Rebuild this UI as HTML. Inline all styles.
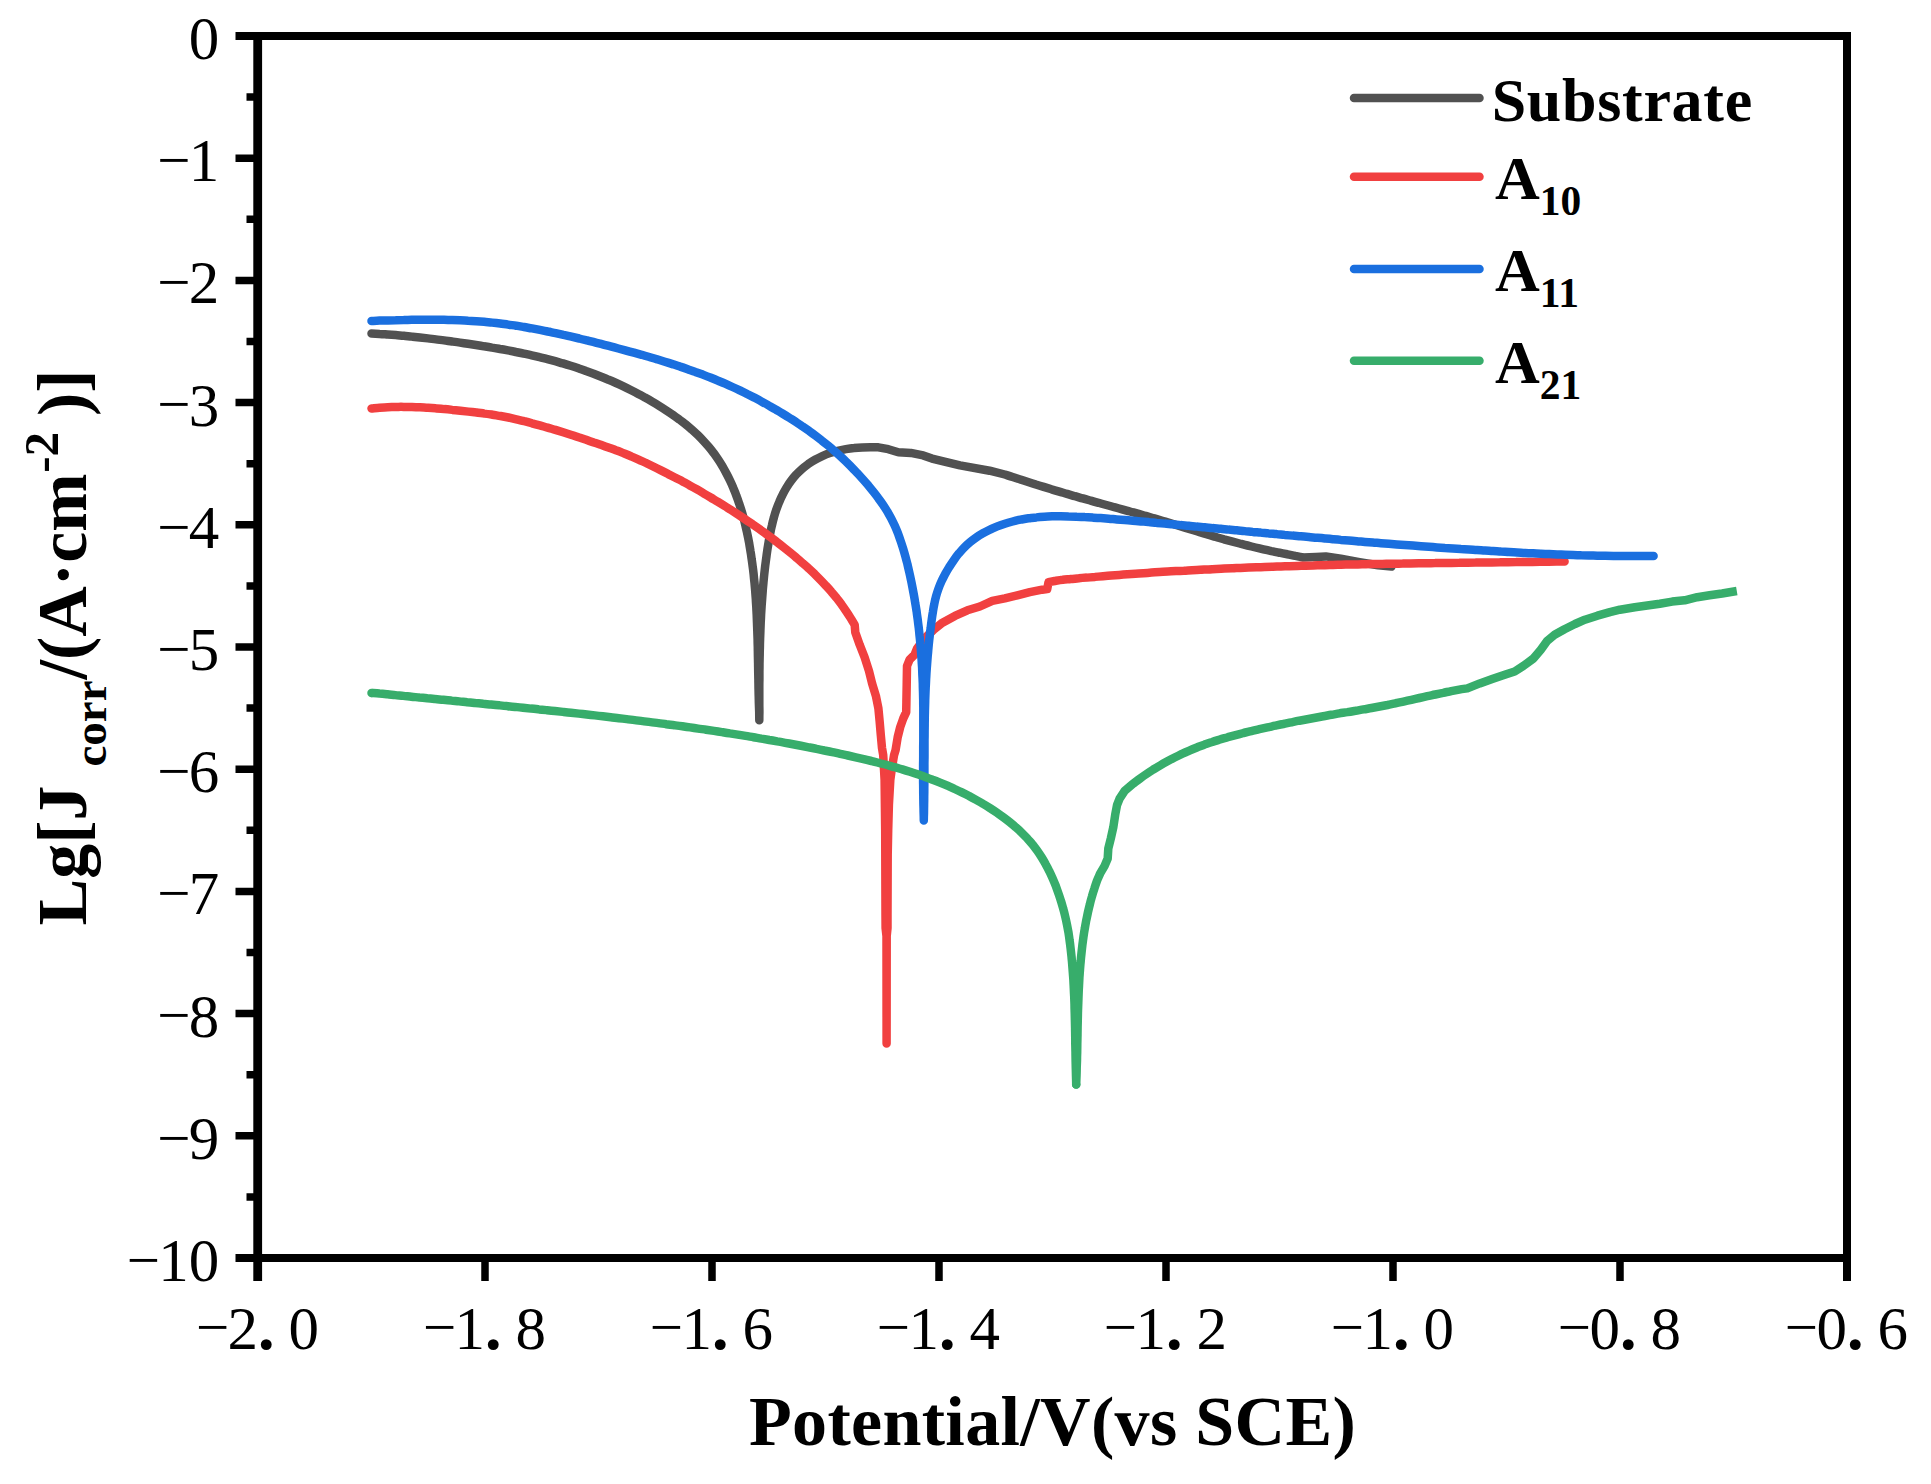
<!DOCTYPE html>
<html lang="en"><head><meta charset="utf-8"><title>Polarization curves</title>
<style>html,body{margin:0;padding:0;background:#fff;}svg{display:block;}text{font-family:"Liberation Serif",serif;fill:#000;}.t{font-size:61px;}.b{font-weight:bold;}</style></head><body>
<svg width="1931" height="1484" viewBox="0 0 1931 1484">
<rect width="1931" height="1484" fill="#fff"/>
<path d="M371.5,333.6C372.8,333.6 376.9,333.7 379.6,333.9C382.3,334.0 385.0,334.3 387.6,334.5C390.3,334.7 393.0,334.9 395.7,335.1C398.4,335.3 401.1,335.6 403.8,335.8C406.4,336.1 409.1,336.3 411.8,336.6C414.5,336.9 417.2,337.2 419.9,337.5C422.5,337.8 425.2,338.1 427.9,338.4C430.6,338.7 433.2,339.1 435.9,339.4C438.6,339.7 441.3,340.1 444.0,340.4C446.6,340.8 449.3,341.1 452.0,341.5C454.7,341.9 457.3,342.3 460.0,342.6C462.7,343.0 465.3,343.4 468.0,343.8C470.7,344.2 473.4,344.6 476.0,345.0C478.7,345.4 481.4,345.8 484.0,346.3C486.7,346.7 489.4,347.1 492.0,347.6C494.7,348.0 497.3,348.5 500.0,349.0C502.6,349.4 505.3,349.9 507.9,350.4C510.6,350.9 513.2,351.4 515.9,352.0C518.5,352.5 521.2,353.0 523.8,353.6C526.4,354.2 529.1,354.7 531.7,355.3C534.3,355.9 536.9,356.5 539.6,357.2C542.2,357.8 544.8,358.5 547.4,359.1C550.0,359.8 552.6,360.5 555.2,361.2C557.8,361.9 560.4,362.7 563.0,363.4C565.6,364.2 568.1,365.0 570.7,365.8C573.3,366.6 575.8,367.4 578.4,368.3C580.9,369.2 583.5,370.0 586.0,371.0C588.6,371.9 591.1,372.8 593.6,373.7C596.1,374.7 598.7,375.7 601.2,376.7C603.7,377.7 606.2,378.7 608.6,379.8C611.1,380.8 613.6,381.9 616.1,383.0C618.5,384.1 621.0,385.3 623.4,386.4C625.9,387.6 628.3,388.8 630.7,390.0C633.1,391.2 635.5,392.4 637.9,393.7C640.3,395.0 642.7,396.2 645.0,397.6C647.4,398.9 649.8,400.2 652.1,401.6C654.4,403.0 656.8,404.4 659.1,405.8C661.4,407.2 663.7,408.7 665.9,410.2C668.2,411.7 670.5,413.2 672.7,414.7C674.9,416.3 677.1,417.9 679.3,419.5C681.4,421.1 683.6,422.8 685.7,424.4C687.8,426.1 689.9,427.9 691.9,429.6C693.9,431.4 695.9,433.2 697.8,435.1C699.7,437.0 701.6,438.9 703.4,440.8C705.3,442.8 707.0,444.8 708.7,446.8C710.5,448.9 712.1,451.0 713.7,453.1C715.3,455.3 716.8,457.5 718.3,459.7C719.8,461.9 721.2,464.2 722.6,466.5C723.9,468.9 725.2,471.2 726.5,473.6C727.8,476.0 729.0,478.4 730.1,480.8C731.3,483.3 732.4,485.7 733.4,488.2C734.5,490.7 735.5,493.2 736.4,495.8C737.4,498.3 738.3,500.8 739.1,503.4C740.0,506.0 740.8,508.5 741.6,511.1C742.4,513.7 743.1,516.3 743.8,518.9C744.5,521.5 745.1,524.2 745.7,526.8C746.4,529.4 746.9,532.1 747.5,534.7C748.1,537.4 748.6,540.0 749.1,542.7C749.5,545.4 750.0,548.0 750.4,550.7C750.9,553.4 751.3,556.0 751.6,558.7C752.0,561.4 752.4,564.1 752.7,566.7C753.1,569.4 753.4,572.1 753.7,574.8C753.9,577.4 754.2,580.1 754.5,582.8C754.7,585.5 755.0,588.2 755.2,590.9C755.4,593.5 755.6,596.2 755.8,598.9C755.9,601.6 756.1,604.3 756.3,607.0C756.4,609.7 756.6,612.4 756.7,615.0C756.8,617.7 756.9,620.4 757.0,623.1C757.1,625.8 757.2,628.5 757.3,631.2C757.4,633.9 757.5,636.6 757.6,639.3C757.6,642.0 757.7,644.7 757.8,647.4C757.8,650.1 757.9,652.8 757.9,655.5C758.0,658.2 758.0,660.9 758.1,663.6C758.1,666.3 758.2,668.9 758.2,671.6C758.3,674.3 758.3,677.0 758.4,679.7C758.4,682.4 758.5,685.1 758.5,687.8C758.6,690.5 758.6,693.2 758.7,695.9C758.8,698.6 758.8,701.3 758.9,704.0C759.0,706.7 759.1,709.4 759.2,712.1C759.2,714.8 759.3,718.9 759.3,720.2C759.3,718.8 759.3,714.8 759.4,712.1C759.4,709.4 759.3,706.6 759.3,703.9C759.3,701.2 759.3,698.5 759.3,695.8C759.3,693.1 759.3,690.4 759.3,687.6C759.3,684.9 759.3,682.2 759.4,679.5C759.4,676.8 759.4,674.1 759.4,671.3C759.5,668.6 759.5,665.9 759.5,663.2C759.6,660.5 759.6,657.8 759.7,655.0C759.7,652.3 759.8,649.6 759.9,646.9C759.9,644.2 760.0,641.5 760.1,638.8C760.2,636.0 760.3,633.3 760.4,630.6C760.5,627.9 760.6,625.2 760.7,622.5C760.9,619.8 761.0,617.1 761.1,614.4C761.3,611.7 761.4,609.0 761.6,606.2C761.8,603.5 762.0,600.8 762.2,598.1C762.4,595.4 762.6,592.7 762.8,590.0C763.0,587.3 763.3,584.6 763.5,581.9C763.8,579.2 764.0,576.6 764.3,573.9C764.6,571.2 764.9,568.5 765.2,565.8C765.6,563.1 765.9,560.4 766.3,557.7C766.6,555.0 767.0,552.3 767.4,549.6C767.8,547.0 768.3,544.3 768.7,541.6C769.2,538.9 769.6,536.2 770.2,533.5C770.7,530.8 771.2,528.2 771.9,525.5C772.5,522.8 773.1,520.2 773.9,517.5C774.6,514.9 775.4,512.3 776.3,509.7C777.2,507.1 778.1,504.6 779.2,502.1C780.2,499.6 781.3,497.1 782.6,494.7C783.8,492.2 785.1,489.9 786.5,487.6C787.9,485.3 789.4,483.0 791.0,480.9C792.6,478.8 794.3,476.7 796.1,474.7C797.9,472.8 799.9,470.9 801.9,469.1C803.9,467.3 806.0,465.7 808.2,464.1C810.4,462.6 812.7,461.1 815.0,459.8C817.4,458.4 819.8,457.2 822.3,456.1C824.8,455.0 827.3,454.0 829.9,453.1C832.5,452.2 835.2,451.5 837.8,450.8C840.5,450.1 843.2,449.6 845.9,449.1C848.6,448.6 851.4,448.2 854.1,448.0C856.8,447.7 859.6,447.5 862.3,447.4C865.0,447.3 867.7,447.3 870.4,447.3C873.1,447.3 877.1,447.3 878.4,447.3L888.3,449.2L898.3,452.3L910.8,452.9L923.2,455.4L932.0,458.6L944.4,461.7L960.0,465.4L989.6,470.7L1004.8,474.5C1006.1,474.9 1010.0,476.2 1012.6,477.0C1015.2,477.8 1017.7,478.7 1020.3,479.5C1022.9,480.4 1025.5,481.2 1028.1,482.0C1030.7,482.8 1033.3,483.6 1035.9,484.5C1038.5,485.3 1041.1,486.1 1043.7,486.9C1046.3,487.7 1048.9,488.5 1051.5,489.3C1054.1,490.0 1056.7,490.8 1059.3,491.6C1061.9,492.4 1064.5,493.1 1067.1,493.9C1069.7,494.7 1072.4,495.4 1075.0,496.2C1077.6,496.9 1080.2,497.7 1082.8,498.4C1085.4,499.2 1088.1,499.9 1090.7,500.6C1093.3,501.4 1095.9,502.1 1098.5,502.8C1101.2,503.6 1103.8,504.3 1106.4,505.0C1109.0,505.7 1111.6,506.4 1114.3,507.2C1116.9,507.9 1119.5,508.6 1122.1,509.3C1124.8,510.0 1127.4,510.8 1130.0,511.5C1132.6,512.2 1135.2,513.0 1137.9,513.7C1140.5,514.4 1143.1,515.2 1145.7,515.9C1148.3,516.7 1150.9,517.4 1153.5,518.2C1156.2,518.9 1158.8,519.7 1161.4,520.5C1164.0,521.3 1166.6,522.0 1169.2,522.8C1171.8,523.6 1174.4,524.4 1177.0,525.2C1179.6,526.0 1182.2,526.8 1184.8,527.6C1187.4,528.4 1190.0,529.2 1192.6,530.0C1195.2,530.8 1197.8,531.6 1200.4,532.4C1203.0,533.1 1205.6,533.9 1208.2,534.7C1210.8,535.5 1213.4,536.2 1216.0,537.0C1218.7,537.8 1221.3,538.5 1223.9,539.3C1226.5,540.0 1229.1,540.7 1231.7,541.4C1234.4,542.1 1237.0,542.8 1239.6,543.5C1242.3,544.2 1244.9,544.9 1247.5,545.5C1250.2,546.2 1252.8,546.8 1255.5,547.5C1258.1,548.1 1260.8,548.7 1263.4,549.3C1266.1,549.9 1268.7,550.5 1271.4,551.1C1274.0,551.6 1276.7,552.2 1279.4,552.7C1282.0,553.3 1284.7,553.8 1287.4,554.3C1290.1,554.9 1292.7,555.3 1295.4,555.9C1298.1,556.4 1302.1,557.2 1303.4,557.5L1315.9,557.0L1325.8,556.4L1340.8,558.7L1359.5,562.2L1378.2,565.3L1391.5,566.6" fill="none" stroke="#515151" stroke-width="8.5" stroke-linecap="round" stroke-linejoin="round"/>
<path d="M371.5,408.5C372.8,408.4 376.9,407.9 379.6,407.7C382.3,407.5 385.0,407.3 387.7,407.2C390.4,407.1 393.0,407.0 395.7,406.9C398.4,406.9 401.1,406.8 403.8,406.9C406.5,406.9 409.2,406.9 411.9,407.0C414.6,407.1 417.3,407.2 420.0,407.3C422.7,407.5 425.4,407.6 428.1,407.8C430.8,408.0 433.5,408.2 436.2,408.4C438.8,408.6 441.5,408.8 444.2,409.1C446.9,409.3 449.6,409.6 452.3,409.9C455.0,410.1 457.7,410.4 460.4,410.7C463.0,411.0 465.7,411.3 468.4,411.6C471.1,411.9 473.8,412.2 476.5,412.5C479.1,412.9 481.8,413.2 484.5,413.6C487.2,413.9 489.8,414.3 492.5,414.7C495.2,415.1 497.8,415.6 500.5,416.0C503.1,416.5 505.8,417.0 508.4,417.5C511.1,418.1 513.7,418.7 516.3,419.3C518.9,419.9 521.6,420.5 524.2,421.2C526.8,421.8 529.4,422.5 532.0,423.3C534.6,424.0 537.2,424.7 539.8,425.4C542.4,426.1 545.0,426.9 547.6,427.6C550.2,428.4 552.8,429.1 555.4,429.9C557.9,430.7 560.5,431.5 563.1,432.3C565.7,433.1 568.2,433.9 570.8,434.7C573.4,435.5 575.9,436.4 578.5,437.3C581.1,438.1 583.6,439.0 586.2,439.8C588.7,440.7 591.3,441.6 593.8,442.5C596.4,443.3 598.9,444.2 601.5,445.1C604.0,446.0 606.6,446.9 609.1,447.8C611.6,448.7 614.2,449.6 616.7,450.6C619.2,451.5 621.7,452.5 624.3,453.5C626.8,454.5 629.3,455.5 631.7,456.6C634.2,457.6 636.7,458.7 639.1,459.8C641.6,460.9 644.0,462.1 646.5,463.2C648.9,464.4 651.3,465.6 653.7,466.8C656.2,468.0 658.6,469.2 661.0,470.4C663.4,471.6 665.8,472.8 668.2,474.1C670.6,475.3 673.0,476.5 675.4,477.7C677.8,479.0 680.2,480.2 682.6,481.5C685.0,482.8 687.4,484.0 689.7,485.4C692.1,486.7 694.4,488.0 696.8,489.3C699.1,490.6 701.4,492.0 703.7,493.4C706.1,494.7 708.4,496.1 710.7,497.5C713.0,498.9 715.3,500.2 717.6,501.6C719.9,503.1 722.2,504.5 724.5,505.9C726.8,507.3 729.1,508.8 731.4,510.2C733.7,511.7 735.9,513.1 738.2,514.6C740.4,516.1 742.7,517.6 744.9,519.1C747.2,520.6 749.4,522.1 751.6,523.6C753.9,525.2 756.1,526.7 758.3,528.3C760.5,529.8 762.7,531.4 764.9,533.0C767.0,534.6 769.2,536.2 771.4,537.8C773.5,539.4 775.7,541.0 777.8,542.7C780.0,544.3 782.1,546.0 784.2,547.7C786.3,549.4 788.4,551.1 790.5,552.8C792.6,554.5 794.7,556.2 796.7,558.0C798.8,559.7 800.8,561.5 802.8,563.3C804.9,565.0 806.9,566.8 808.9,568.7C810.9,570.5 812.8,572.3 814.8,574.2C816.7,576.1 818.6,578.0 820.5,579.9C822.4,581.8 824.2,583.8 826.0,585.8C827.9,587.8 829.7,589.8 831.4,591.8C833.2,593.8 834.9,595.9 836.6,598.0C838.2,600.1 839.9,602.3 841.5,604.4C843.1,606.6 844.6,608.8 846.1,611.1C847.6,613.3 849.1,615.6 850.5,617.9C851.9,620.2 854.0,623.7 854.7,624.9L855.3,632.3L859.7,644.8L864.6,657.3L869.0,671.0L872.1,683.5L875.9,695.9L878.4,708.4L879.6,720.9L880.8,735.0L882.0,748.0L883.2,754.9L884.6,779.9L885.2,829.8L885.5,915.0L885.6,928.0L886.5,936.0L886.6,1043.5L886.7,936.0L887.5,928.0L887.5,915.0L887.7,854.7L888.2,829.8L888.9,804.8L890.3,779.9L892.0,767.4L894.1,754.9L895.6,750.0L897.7,737.1L900.2,727.1L903.3,718.4L906.2,712.1L906.4,702.2L906.7,684.7L907.0,666.0L909.5,659.8L914.5,654.8L917.0,648.5L924.5,638.6L933.7,629.6L942.5,622.7L954.9,615.9L967.4,610.3L979.9,606.5L992.3,600.9L1004.8,598.4L1017.3,595.3L1029.8,592.2L1042.2,589.7L1047.2,589.1L1048.5,582.2L1054.7,581.0C1056.0,580.8 1060.0,580.1 1062.7,579.8C1065.4,579.4 1068.1,579.3 1070.8,579.0C1073.5,578.8 1076.2,578.5 1078.9,578.3C1081.5,578.0 1084.2,577.8 1086.9,577.6C1089.6,577.3 1092.3,577.1 1095.0,576.9C1097.7,576.6 1100.4,576.4 1103.1,576.2C1105.8,576.0 1108.5,575.8 1111.2,575.5C1113.8,575.3 1116.5,575.1 1119.2,574.9C1121.9,574.7 1124.6,574.5 1127.3,574.3C1130.0,574.1 1132.7,573.9 1135.4,573.7C1138.1,573.6 1140.8,573.4 1143.5,573.2C1146.2,573.0 1148.9,572.8 1151.6,572.6C1154.2,572.5 1156.9,572.3 1159.6,572.1C1162.3,572.0 1165.0,571.8 1167.7,571.6C1170.4,571.5 1173.1,571.3 1175.8,571.1C1178.5,571.0 1181.2,570.8 1183.9,570.7C1186.6,570.5 1189.3,570.4 1192.0,570.2C1194.7,570.1 1197.4,570.0 1200.1,569.8C1202.8,569.7 1205.5,569.5 1208.2,569.4C1210.9,569.3 1213.6,569.1 1216.3,569.0C1219.0,568.9 1221.7,568.8 1224.4,568.6C1227.1,568.5 1229.8,568.4 1232.4,568.3C1235.1,568.2 1237.8,568.0 1240.5,567.9C1243.2,567.8 1245.9,567.7 1248.6,567.6C1251.3,567.5 1254.0,567.4 1256.7,567.3C1259.4,567.2 1262.1,567.1 1264.8,567.0C1267.5,566.9 1270.2,566.8 1272.9,566.7C1275.6,566.6 1278.3,566.5 1281.0,566.4C1283.7,566.3 1286.4,566.3 1289.1,566.2C1291.8,566.1 1294.5,566.0 1297.2,565.9C1299.9,565.8 1302.6,565.8 1305.3,565.7C1308.0,565.6 1310.7,565.5 1313.4,565.5C1316.1,565.4 1318.8,565.3 1321.5,565.2C1324.2,565.2 1326.9,565.1 1329.6,565.0C1332.3,565.0 1335.0,564.9 1337.7,564.8C1340.4,564.8 1343.1,564.7 1345.8,564.6C1348.5,564.6 1351.2,564.5 1353.9,564.5C1356.6,564.4 1359.3,564.4 1362.0,564.3C1364.7,564.2 1367.4,564.2 1370.1,564.1C1372.8,564.1 1375.5,564.0 1378.2,564.0C1380.9,563.9 1383.6,563.9 1386.4,563.8C1389.1,563.8 1391.8,563.7 1394.5,563.7C1397.2,563.7 1399.9,563.6 1402.6,563.6C1405.3,563.5 1408.0,563.5 1410.7,563.4C1413.4,563.4 1416.1,563.4 1418.8,563.3C1421.5,563.3 1424.2,563.2 1426.9,563.2C1429.6,563.2 1432.3,563.1 1435.0,563.1C1437.7,563.0 1440.4,563.0 1443.1,563.0C1445.8,562.9 1448.5,562.9 1451.2,562.9C1453.9,562.8 1456.6,562.8 1459.3,562.8C1462.0,562.7 1464.7,562.7 1467.4,562.7C1470.1,562.6 1472.8,562.6 1475.5,562.6C1478.2,562.5 1480.9,562.5 1483.6,562.5C1486.3,562.4 1489.0,562.4 1491.7,562.4C1494.4,562.3 1497.1,562.3 1499.8,562.3C1502.5,562.2 1505.2,562.2 1507.9,562.2C1510.6,562.1 1513.3,562.1 1516.0,562.1C1518.7,562.0 1521.4,562.0 1524.1,562.0C1526.8,561.9 1529.5,561.9 1532.2,561.9C1534.9,561.8 1537.6,561.8 1540.3,561.8C1543.0,561.7 1545.7,561.7 1548.4,561.7C1551.1,561.6 1553.8,561.6 1556.5,561.6C1559.2,561.6 1563.2,561.6 1564.6,561.6" fill="none" stroke="#F14040" stroke-width="8.5" stroke-linecap="round" stroke-linejoin="round"/>
<path d="M371.5,320.9C372.8,320.9 376.9,320.7 379.5,320.6C382.2,320.5 384.9,320.5 387.6,320.4C390.3,320.3 392.9,320.2 395.6,320.2C398.3,320.1 401.0,320.0 403.7,320.0C406.4,319.9 409.0,319.9 411.7,319.8C414.4,319.8 417.1,319.8 419.8,319.7C422.5,319.7 425.2,319.7 427.9,319.7C430.6,319.7 433.2,319.7 435.9,319.7C438.6,319.7 441.3,319.8 444.0,319.8C446.7,319.9 449.4,319.9 452.1,320.0C454.7,320.1 457.4,320.2 460.1,320.3C462.8,320.4 465.5,320.5 468.1,320.7C470.8,320.8 473.5,321.0 476.2,321.2C478.9,321.4 481.5,321.6 484.2,321.8C486.9,322.1 489.5,322.3 492.2,322.6C494.9,322.9 497.5,323.2 500.2,323.5C502.8,323.9 505.5,324.2 508.1,324.6C510.8,325.0 513.5,325.3 516.1,325.7C518.7,326.2 521.4,326.6 524.0,327.0C526.7,327.5 529.3,327.9 532.0,328.4C534.6,328.9 537.2,329.4 539.9,329.9C542.5,330.4 545.1,330.9 547.8,331.5C550.4,332.0 553.0,332.6 555.6,333.1C558.3,333.7 560.9,334.3 563.5,334.9C566.1,335.4 568.8,336.1 571.4,336.7C574.0,337.3 576.6,337.9 579.2,338.5C581.8,339.2 584.5,339.8 587.1,340.4C589.7,341.1 592.3,341.7 594.9,342.4C597.5,343.1 600.1,343.7 602.7,344.4C605.3,345.1 607.9,345.7 610.5,346.4C613.1,347.1 615.7,347.8 618.3,348.5C620.9,349.2 623.5,349.9 626.1,350.6C628.7,351.3 631.3,352.0 633.9,352.7C636.5,353.4 639.1,354.1 641.7,354.8C644.2,355.6 646.8,356.3 649.4,357.0C652.0,357.8 654.5,358.6 657.1,359.3C659.7,360.1 662.2,360.9 664.8,361.7C667.4,362.5 669.9,363.3 672.5,364.1C675.0,364.9 677.6,365.7 680.1,366.6C682.7,367.4 685.2,368.3 687.7,369.2C690.2,370.1 692.8,370.9 695.3,371.9C697.8,372.8 700.3,373.7 702.8,374.6C705.3,375.6 707.8,376.6 710.3,377.5C712.8,378.5 715.3,379.5 717.8,380.6C720.2,381.6 722.7,382.6 725.2,383.7C727.6,384.8 730.1,385.9 732.5,387.0C735.0,388.1 737.4,389.2 739.8,390.4C742.3,391.6 744.7,392.7 747.1,394.0C749.5,395.2 751.9,396.4 754.3,397.6C756.7,398.9 759.1,400.2 761.4,401.4C763.8,402.7 766.2,404.0 768.5,405.4C770.8,406.7 773.2,408.0 775.5,409.4C777.8,410.8 780.1,412.1 782.4,413.5C784.7,414.9 787.0,416.3 789.3,417.8C791.5,419.2 793.8,420.6 796.0,422.1C798.3,423.6 800.5,425.0 802.7,426.6C804.9,428.1 807.1,429.6 809.3,431.1C811.5,432.7 813.6,434.3 815.8,435.9C817.9,437.5 820.0,439.1 822.1,440.8C824.2,442.4 826.3,444.1 828.4,445.8C830.5,447.5 832.5,449.3 834.5,451.1C836.5,452.8 838.5,454.6 840.5,456.4C842.5,458.3 844.4,460.1 846.4,462.0C848.3,463.9 850.2,465.8 852.1,467.7C854.0,469.6 855.8,471.6 857.7,473.5C859.5,475.5 861.3,477.5 863.1,479.5C864.9,481.5 866.7,483.6 868.4,485.6C870.1,487.7 871.8,489.8 873.5,491.9C875.2,494.0 876.8,496.1 878.4,498.3C880.0,500.4 881.6,502.6 883.1,504.8C884.6,507.1 886.0,509.3 887.4,511.6C888.7,513.9 890.1,516.2 891.3,518.6C892.5,521.0 893.7,523.4 894.8,525.8C895.9,528.2 896.9,530.7 897.9,533.2C898.8,535.7 899.7,538.3 900.6,540.8C901.5,543.3 902.3,545.9 903.1,548.5C903.9,551.1 904.6,553.6 905.3,556.2C906.0,558.8 906.7,561.4 907.4,564.0C908.0,566.6 908.6,569.3 909.2,571.9C909.8,574.5 910.4,577.1 910.9,579.7C911.5,582.4 912.0,585.0 912.5,587.6C913.0,590.3 913.5,592.9 914.0,595.6C914.5,598.2 914.9,600.8 915.3,603.5C915.8,606.1 916.2,608.8 916.6,611.4C916.9,614.1 917.3,616.8 917.7,619.4C918.0,622.1 918.3,624.7 918.7,627.4C919.0,630.1 919.3,632.7 919.5,635.4C919.8,638.1 920.1,640.7 920.3,643.4C920.6,646.1 920.8,648.7 921.0,651.4C921.2,654.1 921.4,656.8 921.6,659.5C921.7,662.1 921.9,664.8 922.1,667.5C922.2,670.2 922.3,672.9 922.4,675.5C922.6,678.2 922.7,680.9 922.8,683.6C922.8,686.3 922.9,688.9 923.0,691.6C923.1,694.3 923.1,697.0 923.2,699.7C923.2,702.4 923.2,705.0 923.3,707.7C923.3,710.4 923.3,713.1 923.3,715.8C923.3,718.5 923.3,721.2 923.3,723.8C923.3,726.5 923.3,729.2 923.3,731.9C923.3,734.6 923.3,737.3 923.3,740.0C923.3,742.6 923.2,745.3 923.2,748.0C923.2,750.7 923.2,753.4 923.2,756.1C923.2,758.8 923.2,761.4 923.1,764.1C923.1,766.8 923.1,769.5 923.1,772.2C923.1,774.9 923.1,777.6 923.1,780.2C923.1,782.9 923.2,785.6 923.2,788.3C923.2,791.0 923.2,793.7 923.3,796.4C923.3,799.0 923.4,801.7 923.4,804.4C923.5,807.1 923.6,809.8 923.6,812.4C923.7,815.1 923.8,819.2 923.8,820.5C923.8,819.2 923.9,815.1 924.0,812.5C924.0,809.8 924.1,807.1 924.1,804.4C924.2,801.8 924.2,799.1 924.2,796.4C924.3,793.7 924.3,791.0 924.3,788.4C924.3,785.7 924.4,783.0 924.4,780.3C924.4,777.7 924.4,775.0 924.4,772.3C924.4,769.6 924.4,766.9 924.4,764.3C924.4,761.6 924.5,758.9 924.5,756.2C924.5,753.5 924.5,750.9 924.5,748.2C924.5,745.5 924.5,742.8 924.5,740.1C924.6,737.5 924.6,734.8 924.6,732.1C924.6,729.4 924.7,726.7 924.7,724.1C924.7,721.4 924.8,718.7 924.8,716.0C924.9,713.4 924.9,710.7 925.0,708.0C925.1,705.3 925.2,702.6 925.2,700.0C925.3,697.3 925.4,694.6 925.5,691.9C925.6,689.3 925.7,686.6 925.9,683.9C926.0,681.3 926.1,678.6 926.3,675.9C926.4,673.2 926.6,670.6 926.8,667.9C927.0,665.2 927.2,662.6 927.4,659.9C927.6,657.2 927.8,654.5 928.1,651.9C928.3,649.2 928.6,646.5 928.8,643.9C929.1,641.2 929.4,638.6 929.7,635.9C930.0,633.2 930.3,630.6 930.7,627.9C931.0,625.2 931.3,622.6 931.7,619.9C932.1,617.2 932.4,614.6 932.9,611.9C933.3,609.3 933.7,606.6 934.3,604.0C934.8,601.4 935.4,598.8 936.1,596.2C936.8,593.6 937.6,591.1 938.5,588.6C939.4,586.1 940.4,583.7 941.5,581.3C942.6,578.9 943.9,576.5 945.1,574.1C946.4,571.8 947.8,569.4 949.2,567.1C950.7,564.8 952.2,562.5 953.7,560.3C955.3,558.0 956.9,555.8 958.6,553.7C960.4,551.7 962.1,549.6 964.0,547.7C965.9,545.8 967.9,544.0 969.9,542.3C971.9,540.6 974.1,539.0 976.2,537.5C978.4,536.0 980.6,534.6 982.9,533.3C985.2,532.0 987.6,530.7 990.0,529.6C992.4,528.4 994.8,527.4 997.3,526.4C999.8,525.4 1002.3,524.5 1004.9,523.7C1007.4,522.9 1010.0,522.2 1012.6,521.5C1015.3,520.8 1017.9,520.2 1020.5,519.7C1023.2,519.2 1025.8,518.7 1028.5,518.3C1031.2,518.0 1033.8,517.6 1036.5,517.4C1039.2,517.1 1041.8,516.9 1044.5,516.7C1047.2,516.5 1049.9,516.4 1052.5,516.3C1055.2,516.3 1057.9,516.3 1060.6,516.3C1063.2,516.3 1065.9,516.3 1068.6,516.4C1071.3,516.4 1074.0,516.5 1076.6,516.7C1079.3,516.8 1082.0,516.9 1084.7,517.1C1087.3,517.2 1090.0,517.4 1092.7,517.6C1095.4,517.8 1098.0,518.0 1100.7,518.1C1103.4,518.3 1106.1,518.5 1108.7,518.7C1111.4,518.9 1114.1,519.2 1116.7,519.4C1119.4,519.6 1122.1,519.8 1124.8,520.0C1127.4,520.3 1130.1,520.5 1132.8,520.7C1135.4,521.0 1138.1,521.2 1140.8,521.4C1143.4,521.7 1146.1,521.9 1148.7,522.1C1151.4,522.4 1154.1,522.6 1156.7,522.9C1159.4,523.1 1162.1,523.3 1164.7,523.6C1167.4,523.8 1170.1,524.1 1172.7,524.3C1175.4,524.6 1178.1,524.8 1180.7,525.1C1183.4,525.3 1186.1,525.6 1188.7,525.8C1191.4,526.1 1194.1,526.3 1196.7,526.6C1199.4,526.8 1202.1,527.1 1204.7,527.3C1207.4,527.6 1210.1,527.8 1212.7,528.1C1215.4,528.3 1218.1,528.6 1220.7,528.8C1223.4,529.1 1226.1,529.3 1228.7,529.6C1231.4,529.8 1234.1,530.1 1236.7,530.3C1239.4,530.6 1242.1,530.8 1244.7,531.1C1247.4,531.4 1250.1,531.6 1252.7,531.9C1255.4,532.1 1258.1,532.4 1260.7,532.6C1263.4,532.9 1266.1,533.1 1268.7,533.4C1271.4,533.6 1274.1,533.9 1276.7,534.1C1279.4,534.4 1282.1,534.6 1284.7,534.9C1287.4,535.1 1290.1,535.3 1292.7,535.6C1295.4,535.8 1298.1,536.1 1300.7,536.3C1303.4,536.6 1306.1,536.8 1308.8,537.0C1311.4,537.3 1314.1,537.5 1316.8,537.8C1319.4,538.0 1322.1,538.2 1324.8,538.5C1327.4,538.7 1330.1,538.9 1332.8,539.2C1335.4,539.4 1338.1,539.6 1340.8,539.9C1343.4,540.1 1346.1,540.3 1348.8,540.5C1351.4,540.8 1354.1,541.0 1356.8,541.2C1359.5,541.4 1362.1,541.7 1364.8,541.9C1367.5,542.1 1370.1,542.3 1372.8,542.5C1375.5,542.7 1378.1,543.0 1380.8,543.2C1383.5,543.4 1386.2,543.6 1388.8,543.8C1391.5,544.0 1394.2,544.2 1396.8,544.4C1399.5,544.6 1402.2,544.8 1404.8,545.0C1407.5,545.2 1410.2,545.4 1412.9,545.6C1415.5,545.8 1418.2,546.0 1420.9,546.2C1423.5,546.4 1426.2,546.6 1428.9,546.8C1431.6,547.0 1434.2,547.2 1436.9,547.4C1439.6,547.6 1442.2,547.8 1444.9,548.0C1447.6,548.1 1450.3,548.3 1452.9,548.5C1455.6,548.7 1458.3,548.9 1460.9,549.1C1463.6,549.2 1466.3,549.4 1469.0,549.6C1471.6,549.8 1474.3,549.9 1477.0,550.1C1479.6,550.3 1482.3,550.4 1485.0,550.6C1487.7,550.8 1490.3,550.9 1493.0,551.1C1495.7,551.3 1498.4,551.4 1501.0,551.6C1503.7,551.7 1506.4,551.9 1509.1,552.0C1511.7,552.2 1514.4,552.4 1517.1,552.5C1519.7,552.6 1522.4,552.8 1525.1,552.9C1527.8,553.1 1530.4,553.2 1533.1,553.3C1535.8,553.5 1538.5,553.6 1541.1,553.7C1543.8,553.8 1546.5,554.0 1549.2,554.1C1551.8,554.2 1554.5,554.3 1557.2,554.4C1559.9,554.5 1562.5,554.6 1565.2,554.7C1567.9,554.8 1570.6,554.9 1573.2,555.0C1575.9,555.1 1578.6,555.2 1581.3,555.3C1584.0,555.3 1586.6,555.4 1589.3,555.5C1592.0,555.6 1594.7,555.6 1597.3,555.7C1600.0,555.7 1602.7,555.8 1605.4,555.8C1608.1,555.9 1610.7,555.9 1613.4,555.9C1616.1,556.0 1618.8,556.0 1621.4,556.0C1624.1,556.0 1626.8,556.0 1629.5,556.1C1632.2,556.1 1634.8,556.1 1637.5,556.0C1640.2,556.0 1642.9,556.0 1645.6,556.0C1648.2,556.0 1652.3,556.1 1653.6,556.1" fill="none" stroke="#1A6FDF" stroke-width="8.5" stroke-linecap="round" stroke-linejoin="round"/>
<path d="M371.5,692.9C372.8,693.0 376.8,693.2 379.5,693.5C382.2,693.7 384.8,694.0 387.5,694.3C390.1,694.6 392.8,694.8 395.4,695.1C398.1,695.4 400.8,695.6 403.4,695.9C406.1,696.2 408.7,696.4 411.4,696.7C414.0,697.0 416.7,697.2 419.4,697.5C422.0,697.7 424.7,698.0 427.3,698.3C430.0,698.5 432.6,698.8 435.3,699.1C438.0,699.3 440.6,699.6 443.3,699.8C445.9,700.1 448.6,700.4 451.3,700.6C453.9,700.9 456.6,701.1 459.2,701.4C461.9,701.7 464.6,701.9 467.2,702.2C469.9,702.4 472.5,702.7 475.2,703.0C477.8,703.2 480.5,703.5 483.2,703.8C485.8,704.0 488.5,704.3 491.1,704.5C493.8,704.8 496.5,705.1 499.1,705.3C501.8,705.6 504.4,705.9 507.1,706.1C509.8,706.4 512.4,706.7 515.1,706.9C517.7,707.2 520.4,707.5 523.0,707.7C525.7,708.0 528.4,708.3 531.0,708.6C533.7,708.8 536.3,709.1 539.0,709.4C541.7,709.6 544.3,709.9 547.0,710.2C549.6,710.5 552.3,710.8 554.9,711.0C557.6,711.3 560.3,711.6 562.9,711.9C565.6,712.2 568.2,712.5 570.9,712.7C573.5,713.0 576.2,713.3 578.9,713.6C581.5,713.9 584.2,714.2 586.8,714.5C589.5,714.8 592.1,715.1 594.8,715.4C597.4,715.7 600.1,716.0 602.7,716.3C605.4,716.6 608.1,716.9 610.7,717.2C613.4,717.5 616.0,717.9 618.7,718.2C621.3,718.5 624.0,718.8 626.6,719.1C629.3,719.4 631.9,719.8 634.6,720.1C637.2,720.4 639.9,720.8 642.5,721.1C645.2,721.4 647.8,721.8 650.5,722.1C653.1,722.4 655.8,722.8 658.4,723.1C661.1,723.5 663.7,723.8 666.4,724.2C669.0,724.5 671.7,724.9 674.3,725.2C677.0,725.6 679.6,726.0 682.3,726.3C684.9,726.7 687.5,727.1 690.2,727.4C692.8,727.8 695.5,728.2 698.1,728.6C700.8,729.0 703.4,729.3 706.1,729.7C708.7,730.1 711.3,730.5 714.0,730.9C716.6,731.3 719.3,731.7 721.9,732.1C724.5,732.5 727.2,732.9 729.8,733.4C732.5,733.8 735.1,734.2 737.7,734.6C740.4,735.1 743.0,735.5 745.6,735.9C748.3,736.3 750.9,736.8 753.5,737.2C756.2,737.7 758.8,738.1 761.4,738.6C764.1,739.0 766.7,739.5 769.3,740.0C772.0,740.4 774.6,740.9 777.2,741.4C779.9,741.8 782.5,742.3 785.1,742.8C787.7,743.3 790.4,743.8 793.0,744.3C795.6,744.8 798.2,745.3 800.9,745.8C803.5,746.3 806.1,746.8 808.7,747.3C811.3,747.8 814.0,748.3 816.6,748.9C819.2,749.4 821.8,749.9 824.4,750.5C827.0,751.0 829.7,751.5 832.3,752.1C834.9,752.7 837.5,753.2 840.1,753.8C842.7,754.4 845.3,754.9 847.9,755.5C850.5,756.1 853.1,756.7 855.8,757.3C858.4,757.9 861.0,758.5 863.6,759.1C866.2,759.8 868.8,760.4 871.4,761.0C874.0,761.7 876.6,762.3 879.1,763.0C881.7,763.7 884.3,764.3 886.9,765.0C889.5,765.7 892.0,766.5 894.6,767.2C897.2,767.9 899.8,768.7 902.3,769.4C904.9,770.2 907.4,771.0 910.0,771.8C912.5,772.6 915.0,773.4 917.6,774.3C920.1,775.2 922.6,776.0 925.1,776.9C927.6,777.8 930.1,778.7 932.6,779.7C935.1,780.6 937.6,781.6 940.0,782.6C942.5,783.6 945.0,784.6 947.4,785.7C949.9,786.8 952.3,787.8 954.7,789.0C957.1,790.1 959.5,791.2 961.9,792.4C964.3,793.6 966.7,794.8 969.1,796.0C971.4,797.3 973.8,798.6 976.1,799.9C978.5,801.2 980.8,802.5 983.1,803.9C985.4,805.2 987.7,806.6 990.0,808.1C992.2,809.5 994.5,811.0 996.7,812.5C998.9,814.0 1001.1,815.6 1003.3,817.2C1005.5,818.8 1007.6,820.4 1009.7,822.1C1011.8,823.8 1013.8,825.5 1015.8,827.3C1017.8,829.0 1019.8,830.8 1021.7,832.7C1023.6,834.6 1025.5,836.5 1027.3,838.4C1029.0,840.4 1030.8,842.4 1032.5,844.4C1034.1,846.5 1035.7,848.6 1037.3,850.8C1038.8,852.9 1040.3,855.2 1041.7,857.4C1043.1,859.7 1044.5,862.0 1045.7,864.3C1047.0,866.6 1048.3,869.0 1049.4,871.4C1050.6,873.8 1051.7,876.3 1052.8,878.7C1053.9,881.2 1054.9,883.7 1055.9,886.2C1056.8,888.7 1057.7,891.2 1058.6,893.8C1059.5,896.3 1060.3,898.9 1061.1,901.4C1061.9,904.0 1062.6,906.6 1063.3,909.1C1064.1,911.7 1064.7,914.3 1065.3,916.9C1065.9,919.5 1066.5,922.1 1067.0,924.7C1067.5,927.3 1068.0,929.9 1068.5,932.6C1068.9,935.2 1069.3,937.8 1069.6,940.5C1070.0,943.1 1070.3,945.7 1070.6,948.4C1070.9,951.0 1071.2,953.7 1071.5,956.4C1071.7,959.0 1072.0,961.7 1072.2,964.3C1072.4,967.0 1072.6,969.7 1072.8,972.3C1073.0,975.0 1073.2,977.6 1073.4,980.3C1073.5,983.0 1073.7,985.7 1073.8,988.3C1073.9,991.0 1074.0,993.7 1074.2,996.3C1074.3,999.0 1074.4,1001.7 1074.5,1004.4C1074.5,1007.0 1074.6,1009.7 1074.7,1012.4C1074.8,1015.1 1074.8,1017.7 1074.9,1020.4C1075.0,1023.1 1075.0,1025.8 1075.1,1028.4C1075.1,1031.1 1075.2,1033.8 1075.2,1036.5C1075.3,1039.1 1075.3,1041.8 1075.3,1044.5C1075.4,1047.2 1075.4,1049.8 1075.5,1052.5C1075.5,1055.2 1075.6,1057.9 1075.6,1060.5C1075.7,1063.2 1075.7,1065.9 1075.8,1068.5C1075.9,1071.2 1075.9,1073.9 1076.0,1076.5C1076.1,1079.2 1076.2,1083.2 1076.2,1084.5C1076.2,1083.1 1076.4,1079.1 1076.5,1076.3C1076.6,1073.6 1076.7,1070.9 1076.7,1068.2C1076.8,1065.4 1076.9,1062.7 1077.0,1060.0C1077.0,1057.3 1077.1,1054.5 1077.2,1051.8C1077.2,1049.0 1077.3,1046.3 1077.3,1043.6C1077.4,1040.8 1077.4,1038.1 1077.5,1035.3C1077.5,1032.6 1077.6,1029.8 1077.6,1027.1C1077.7,1024.3 1077.8,1021.6 1077.8,1018.8C1077.9,1016.1 1077.9,1013.3 1078.0,1010.6C1078.1,1007.8 1078.2,1005.1 1078.3,1002.3C1078.4,999.6 1078.5,996.8 1078.6,994.1C1078.7,991.3 1078.8,988.6 1079.0,985.9C1079.1,983.1 1079.3,980.4 1079.4,977.6C1079.6,974.9 1079.8,972.1 1080.0,969.4C1080.2,966.7 1080.4,963.9 1080.7,961.2C1080.9,958.5 1081.2,955.7 1081.5,953.0C1081.8,950.3 1082.1,947.6 1082.4,944.9C1082.8,942.2 1083.1,939.4 1083.5,936.7C1083.9,934.0 1084.3,931.3 1084.8,928.6C1085.2,925.9 1085.7,923.3 1086.2,920.6C1086.8,917.9 1087.3,915.2 1087.9,912.5C1088.5,909.9 1089.1,907.2 1089.8,904.6C1090.4,901.9 1091.1,899.3 1091.9,896.6C1092.6,894.0 1093.4,891.4 1094.3,888.8C1095.1,886.2 1096.0,883.5 1096.9,881.0C1097.9,878.4 1099.7,874.7 1100.2,873.4L1104.6,865.9L1107.7,858.5L1108.3,848.5L1110.8,838.5L1113.3,827.3L1115.2,814.8L1117.1,804.8L1119.6,798.6L1124.5,791.1L1133.3,783.6C1134.4,782.8 1137.6,780.3 1139.8,778.7C1142.0,777.1 1144.2,775.5 1146.5,774.0C1148.7,772.5 1151.0,771.0 1153.3,769.5C1155.6,768.1 1157.9,766.7 1160.3,765.3C1162.6,763.9 1165.0,762.6 1167.4,761.3C1169.8,760.0 1172.2,758.7 1174.6,757.5C1177.0,756.3 1179.5,755.1 1181.9,753.9C1184.4,752.8 1186.9,751.7 1189.4,750.6C1191.9,749.5 1194.4,748.5 1196.9,747.5C1199.4,746.5 1202.0,745.6 1204.5,744.6C1207.1,743.7 1209.6,742.8 1212.2,742.0C1214.8,741.1 1217.4,740.3 1219.9,739.5C1222.5,738.7 1225.1,738.0 1227.8,737.2C1230.4,736.5 1233.0,735.8 1235.6,735.1C1238.2,734.4 1240.9,733.7 1243.5,733.0C1246.2,732.4 1248.8,731.7 1251.4,731.1C1254.1,730.5 1256.7,729.8 1259.4,729.2C1262.0,728.6 1264.7,728.0 1267.4,727.4C1270.0,726.8 1272.7,726.3 1275.3,725.7C1278.0,725.1 1280.6,724.5 1283.3,724.0C1286.0,723.4 1288.6,722.9 1291.3,722.3C1293.9,721.8 1296.6,721.3 1299.3,720.7C1301.9,720.2 1304.6,719.7 1307.3,719.2C1309.9,718.7 1312.6,718.2 1315.3,717.7C1318.0,717.2 1320.6,716.7 1323.3,716.2C1326.0,715.7 1328.6,715.3 1331.3,714.8C1334.0,714.3 1336.7,713.9 1339.4,713.4C1342.0,713.0 1344.7,712.5 1347.4,712.1C1350.1,711.6 1352.8,711.2 1355.4,710.8C1358.1,710.3 1360.8,709.9 1363.5,709.4C1366.2,708.9 1368.8,708.5 1371.5,708.0C1374.2,707.5 1376.9,707.0 1379.5,706.5C1382.2,706.0 1384.9,705.5 1387.5,705.0C1390.2,704.4 1392.8,703.9 1395.5,703.3C1398.2,702.8 1400.8,702.2 1403.5,701.6C1406.1,701.0 1408.8,700.4 1411.4,699.8C1414.1,699.2 1416.7,698.6 1419.4,698.0C1422.0,697.4 1424.7,696.8 1427.3,696.2C1430.0,695.6 1432.6,695.1 1435.3,694.5C1437.9,693.9 1440.6,693.3 1443.2,692.8C1445.9,692.2 1448.6,691.7 1451.2,691.1C1453.9,690.6 1456.6,690.1 1459.2,689.6C1461.9,689.1 1466.0,688.6 1467.3,688.4L1479.8,683.4L1492.2,679.0L1504.7,674.7L1514.7,671.5L1523.4,665.9L1533.4,658.5L1540.8,649.7L1547.1,641.0L1554.6,634.8L1564.5,629.2L1575.0,624.0L1584.9,619.7L1597.4,615.7L1609.9,612.2L1619.9,609.7L1634.8,607.2L1659.8,603.7L1672.2,601.6L1684.7,600.3L1697.2,597.2L1709.6,595.3L1722.1,593.5L1736.8,591.0" fill="none" stroke="#37AD6B" stroke-width="8.5" stroke-linecap="butt" stroke-linejoin="round"/><circle cx="371.5" cy="692.9" r="4.25" fill="#37AD6B"/><circle cx="1076.2" cy="1084.5" r="4.25" fill="#37AD6B"/>
<g stroke="#000" fill="none">
<path d="M235.5,36.0 H1851.0" stroke-width="8.0"/>
<path d="M235.5,1258.0 H1851.0" stroke-width="8.0"/>
<path d="M257.7,32.0 V1281.0" stroke-width="8.8"/>
<path d="M1847.0,32.0 V1281.0" stroke-width="8.0"/>
<path d="M235.5,158.2 H258.0 M235.5,280.4 H258.0 M235.5,402.6 H258.0 M235.5,524.8 H258.0 M235.5,647.0 H258.0 M235.5,769.2 H258.0 M235.5,891.4 H258.0 M235.5,1013.6 H258.0 M235.5,1135.8 H258.0 " stroke-width="7.5"/>
<path d="M246.5,97.1 H258.0 M246.5,219.3 H258.0 M246.5,341.5 H258.0 M246.5,463.7 H258.0 M246.5,585.9 H258.0 M246.5,708.1 H258.0 M246.5,830.3 H258.0 M246.5,952.5 H258.0 M246.5,1074.7 H258.0 M246.5,1196.9 H258.0 " stroke-width="7.5"/>
<path d="M485.0,1258.0 V1281.0 M712.0,1258.0 V1281.0 M939.0,1258.0 V1281.0 M1166.0,1258.0 V1281.0 M1393.0,1258.0 V1281.0 M1620.0,1258.0 V1281.0 " stroke-width="7.5"/>
</g>
<text class="t" text-anchor="middle" y="59.0"><tspan x="204.0">0</tspan></text>
<text class="t" text-anchor="middle" y="181.2"><tspan x="173.8" dy="-1.3" font-size="59">−</tspan><tspan x="204.0" dy="1.3">1</tspan></text>
<text class="t" text-anchor="middle" y="303.4"><tspan x="173.8" dy="-1.3" font-size="59">−</tspan><tspan x="204.0" dy="1.3">2</tspan></text>
<text class="t" text-anchor="middle" y="425.6"><tspan x="173.8" dy="-1.3" font-size="59">−</tspan><tspan x="204.0" dy="1.3">3</tspan></text>
<text class="t" text-anchor="middle" y="547.8"><tspan x="173.8" dy="-1.3" font-size="59">−</tspan><tspan x="204.0" dy="1.3">4</tspan></text>
<text class="t" text-anchor="middle" y="670.0"><tspan x="173.8" dy="-1.3" font-size="59">−</tspan><tspan x="204.0" dy="1.3">5</tspan></text>
<text class="t" text-anchor="middle" y="792.2"><tspan x="173.8" dy="-1.3" font-size="59">−</tspan><tspan x="204.0" dy="1.3">6</tspan></text>
<text class="t" text-anchor="middle" y="914.4"><tspan x="173.8" dy="-1.3" font-size="59">−</tspan><tspan x="204.0" dy="1.3">7</tspan></text>
<text class="t" text-anchor="middle" y="1036.6"><tspan x="173.8" dy="-1.3" font-size="59">−</tspan><tspan x="204.0" dy="1.3">8</tspan></text>
<text class="t" text-anchor="middle" y="1158.8"><tspan x="173.8" dy="-1.3" font-size="59">−</tspan><tspan x="204.0" dy="1.3">9</tspan></text>
<text class="t" text-anchor="middle" y="1281.0"><tspan x="143.3" dy="-1.3" font-size="59">−</tspan><tspan x="173.5" dy="1.3">1</tspan><tspan x="204.0">0</tspan></text>
<text class="t" text-anchor="middle" y="1348.5"><tspan x="212.6" dy="-1.3" font-size="59">−</tspan><tspan x="242.8" dy="1.3">2</tspan><tspan x="266.2" font-size="92">.</tspan><tspan x="303.8">0</tspan></text>
<text class="t" text-anchor="middle" y="1348.5"><tspan x="439.6" dy="-1.3" font-size="59">−</tspan><tspan x="469.8" dy="1.3">1</tspan><tspan x="493.2" font-size="92">.</tspan><tspan x="530.8">8</tspan></text>
<text class="t" text-anchor="middle" y="1348.5"><tspan x="666.5" dy="-1.3" font-size="59">−</tspan><tspan x="696.8" dy="1.3">1</tspan><tspan x="720.2" font-size="92">.</tspan><tspan x="757.8">6</tspan></text>
<text class="t" text-anchor="middle" y="1348.5"><tspan x="893.5" dy="-1.3" font-size="59">−</tspan><tspan x="923.8" dy="1.3">1</tspan><tspan x="947.2" font-size="92">.</tspan><tspan x="984.8">4</tspan></text>
<text class="t" text-anchor="middle" y="1348.5"><tspan x="1120.5" dy="-1.3" font-size="59">−</tspan><tspan x="1150.8" dy="1.3">1</tspan><tspan x="1174.2" font-size="92">.</tspan><tspan x="1211.8">2</tspan></text>
<text class="t" text-anchor="middle" y="1348.5"><tspan x="1347.5" dy="-1.3" font-size="59">−</tspan><tspan x="1377.8" dy="1.3">1</tspan><tspan x="1401.2" font-size="92">.</tspan><tspan x="1438.8">0</tspan></text>
<text class="t" text-anchor="middle" y="1348.5"><tspan x="1574.5" dy="-1.3" font-size="59">−</tspan><tspan x="1604.8" dy="1.3">0</tspan><tspan x="1628.2" font-size="92">.</tspan><tspan x="1665.8">8</tspan></text>
<text class="t" text-anchor="middle" y="1348.5"><tspan x="1801.5" dy="-1.3" font-size="59">−</tspan><tspan x="1831.8" dy="1.3">0</tspan><tspan x="1855.2" font-size="92">.</tspan><tspan x="1892.8">6</tspan></text>
<text class="b" font-size="70" letter-spacing="0.33" x="749" y="1445">Potential/V(vs SCE)</text>
<g transform="rotate(-90)">
<text class="b" font-size="70" x="-925.5" y="85.7">Lg[J</text>
<text class="b" font-size="47" x="-766.5" y="106.0">corr</text>
<text class="b" font-size="70" x="-679.5" y="85.7">/(A·cm</text>
<text class="b" font-size="49" x="-472.8" y="57.7">-2</text>
<text class="b" font-size="70" x="-416.0" y="85.7">)]</text>
</g>
<path d="M1354,98 H1479.5" stroke="#515151" stroke-width="8.5" stroke-linecap="round"/>
<text class="b" font-size="62" letter-spacing="0.7" x="1491.7" y="121">Substrate</text>
<path d="M1354,176.7 H1479.5" stroke="#F14040" stroke-width="8.5" stroke-linecap="round"/>
<text class="b" font-size="62" x="1495" y="199">A<tspan font-size="41.5" dy="16">10</tspan></text>
<path d="M1354,269 H1479.5" stroke="#1A6FDF" stroke-width="8.5" stroke-linecap="round"/>
<text class="b" font-size="62" x="1495" y="291.4">A<tspan font-size="41.5" dy="16">11</tspan></text>
<path d="M1354,360.7 H1479.5" stroke="#37AD6B" stroke-width="8.5" stroke-linecap="round"/>
<text class="b" font-size="62" x="1495" y="383">A<tspan font-size="41.5" dy="16">21</tspan></text>
</svg></body></html>
